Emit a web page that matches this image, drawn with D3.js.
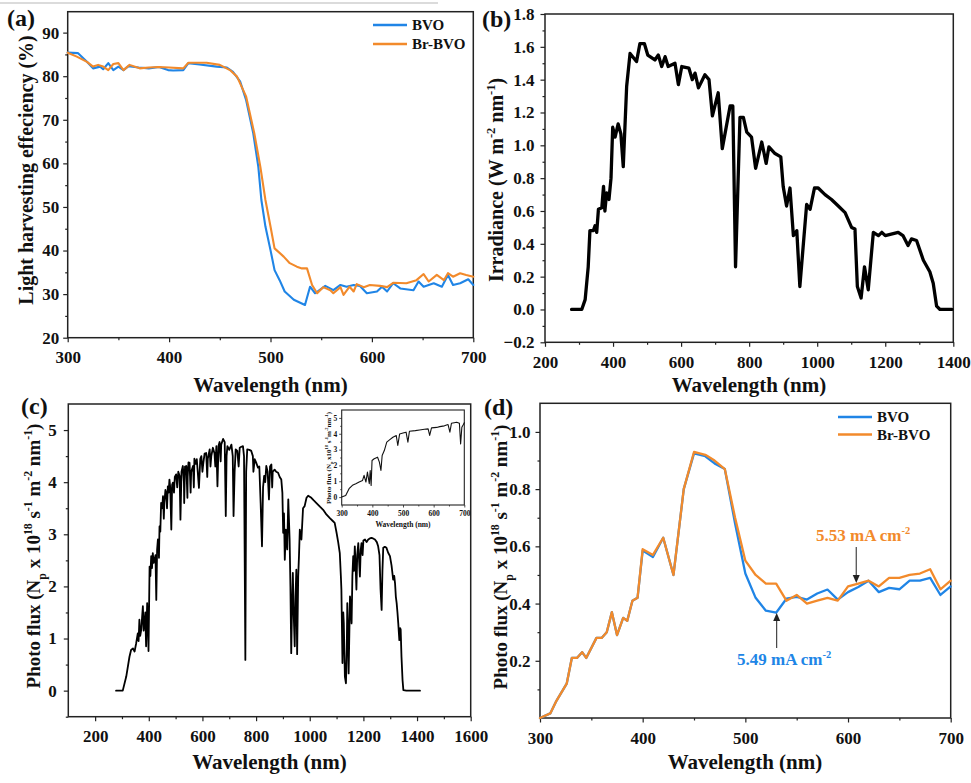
<!DOCTYPE html>
<html><head><meta charset="utf-8">
<script src="https://cdn.jsdelivr.net/npm/d3@7"></script>
<style>body{margin:0;background:#fff}svg{display:block}svg text{font-family:"Liberation Serif","Times New Roman",serif}</style>
</head><body><svg id="chart" width="971" height="783"></svg>
<script>
// ---------- Panel (a): light harvesting efficiency ----------
const aX_BVO = [300,310,319,325,332,335,340,345,350,355, 360,370,380,390,399,404,414,419,430,447,
                457,463,470,476,483,488,491,495,500,504, 509,514,523,534,539,544,554,562,569,575,
                582,588,595,605,610,615,621,628,641,646, 651,661,669,675,680,687,695,700];
const aY_BVO = [85.4,85.3,83.3,81.8,82.2,81.6,83.0,81.4,82.2,81.4, 82.3,82.0,81.8,82.1,81.4,81.3,81.4,83.0,82.7,82.2,
                82.0,81.0,78.8,74.5,66.9,59.2,51.6,45.5,40.1,35.5, 33.2,30.6,28.7,27.5,31.7,30.2,31.9,30.9,32.1,31.7,
                32.1,31.9,30.2,30.6,31.7,30.6,32.5,31.3,30.9,32.9, 31.7,32.5,31.7,34.4,32.1,32.5,33.4,32.1];
const aX_Br = [300,309,319,325,330,335,340,345,350,355, 361,371,380,390,400,414,419,437,450,460,
               467,476,484,490,495,500,504,513,519,526, 531,536,541,546,552,559,562,569,572,578,
               582,585,592,598,608,615,621,634,644,651, 656,664,671,675,680,687,693,700];
const aY_Br = [85.4,84.5,83.3,82.2,82.6,82.2,81.4,82.8,83.0,81.4, 82.6,81.8,82.0,82.1,82.0,81.8,83.1,83.1,82.6,81.4,
               79.9,75.3,66.9,59.2,51.6,45.5,40.5,38.6,37.1,36.3, 35.9,35.9,32.1,30.2,31.6,30.9,30.2,31.6,29.8,31.7,
               30.6,32.3,31.6,32.1,31.9,31.6,32.6,32.5,33.2,34.6, 32.9,34.4,33.2,34.8,34.0,34.8,34.4,34.0];
const aXTicks = [300,400,500,600,700];
const aYTicks = [20,30,40,50,60,70,80,90];

// ---------- Panel (b): solar irradiance ----------
const bX = [278,300,308,318,327,332,342,347,352,357, 367,372,376,381,388,394,399,406,415,423,
            430,440,450,469,479,492,502,523,533,543, 553,562,582,592,602,623,633,641,651,670,
            682,692,709,721,744,752,760,773,783,793, 807,819,837,850,858,876,893,900,910,920,
            930,940,949,969,979,992,1003,1023,1042,1062, 1082,1101,1111,1118,1129,1139,1150,1165,1180,1190,
            1200,1238,1252,1267,1277,1292,1312,1331,1341,1351, 1361,1396];
const bY = [0,0,0,0.06,0.26,0.48,0.48,0.51,0.47,0.61, 0.62,0.75,0.60,0.71,0.67,0.80,1.11,1.05,1.13,1.07,
            0.87,1.36,1.56,1.51,1.62,1.62,1.55,1.52,1.55,1.48, 1.54,1.48,1.50,1.37,1.48,1.47,1.40,1.44,1.35,1.43,
            1.40,1.18,1.32,0.98,1.24,1.24,0.26,1.17,1.17,1.08, 1.05,0.86,1.02,0.89,0.99,0.95,0.93,0.75,0.63,0.74,
            0.45,0.48,0.14,0.64,0.61,0.74,0.74,0.70,0.67,0.63, 0.59,0.50,0.49,0.14,0.07,0.26,0.12,0.47,0.45,0.47,
            0.45,0.47,0.45,0.39,0.43,0.42,0.30,0.23,0.16,0.02, 0,0];
const bXTicks = [200,400,600,800,1000,1200,1400];
const bYTicks = [-0.2,0,0.2,0.4,0.6,0.8,1.0,1.2,1.4,1.6,1.8];

// ---------- Panel (c): photon flux ----------
const cX = [278,303,316,328,334,341,347,353,359,362,
            365,368,372,375,378,381,384,387,390,394,
            397,399,403,406,409,412,415,418,421,425,
            428,431,434,437,438,440,443,446,450,453,
            456,458,462,465,468,471,474,477,480,484,
            487,490,494,497,502,506,510,515,518,522,
            527,531,532,535,540,544,545,548,552,556,
            558,565,568,570,575,579,587,592,596,600,
            603,608,614,618,620,627,630,633,639,645,
            648,652,656,660,664,668,670,677,683,687,
            690,693,700,708,713,716,720,724,730,735,
            739,745,751,755,760,763,767,775,782,788,
            790,795,800,807,812,817,822,826,830,834,
            838,843,848,852,857,860,862,869,875,882,
            888,894,898,901,904,907,911,916,920,925,
            928,931,934,937,940,944,947,950,953,957,
            960,963,969,975,981,988,994,1000,1006,1015,
            1025,1038,1050,1062,1075,1085,1093,1100,1106,1112,
            1116,1118,1122,1125,1127,1131,1135,1138,1140,1143,
            1145,1148,1150,1153,1156,1159,1162,1165,1168,1171,
            1174,1177,1181,1184,1187,1190,1193,1197,1200,1206,
            1212,1218,1224,1230,1236,1243,1250,1255,1260,1264,
            1268,1271,1274,1280,1286,1292,1299,1305,1311,1315,
            1318,1321,1324,1327,1330,1334,1337,1339,1342,1346,
            1349,1360,1411];
const cY = [0,0,0.27,0.65,0.78,0.81,0.75,0.91,1.10,0.95,
            1.36,1.05,1.17,1.40,1.62,1.15,1.29,1.5,0.85,1.68,
            1.2,0.76,2.38,2.2,2.58,2.35,2.64,2.45,2.51,2.6,
            1.74,2.7,2.90,2.8,2.55,3.15,3.05,3.60,3.50,3.73,
            3.3,3.6,3.85,3.79,3.5,3.92,3.8,4.05,3.9,3.09,
            3.95,3.99,3.8,4.1,4.15,3.9,4.2,4.12,3.28,4.2,
            4.31,4.0,3.6,4.3,4.31,3.7,4.1,4.38,4.37,3.8,
            4.2,4.31,3.9,4.45,4.35,4.44,3.89,4.45,4.50,4.2,
            4.35,4.55,4.56,4.1,4.45,4.63,4.3,4.5,4.66,4.55,
            4.3,4.69,3.92,4.7,4.77,4.4,4.72,4.83,4.77,3.35,
            4.5,4.69,4.62,4.72,4.5,3.35,4.2,4.63,4.6,4.3,
            4.66,4.68,4.69,4.5,0.59,4.2,4.63,4.62,4.60,4.5,
            4.2,4.44,4.38,4.28,4.3,3.60,2.77,3.9,4.12,4.0,
            4.31,4.2,3.67,4.3,4.34,3.9,4.2,4.24,4.2,4.18,
            4.1,4.05,3.8,3.03,3.4,2.51,3.09,2.71,3.67,2.90,
            2.0,0.72,1.6,2.26,1.5,0.85,1.8,2.32,0.7,2.19,
            2.6,3.09,2.9,3.5,3.54,3.7,3.74,3.72,3.70,3.65,
            3.60,3.53,3.47,3.38,3.31,3.26,3.22,3.03,2.85,2.64,
            2.2,1.94,0.53,1.5,1.29,0.27,0.14,0.8,1.68,1.1,
            0.33,1.2,1.81,1.6,1.29,2.2,2.58,2.3,2.77,2.4,
            1.94,2.6,2.83,2.5,2.19,2.7,2.83,2.6,2.88,2.90,
            2.85,2.90,2.92,2.93,2.92,2.90,2.85,2.77,2.6,1.94,
            1.55,2.3,2.74,2.76,2.74,2.65,2.58,2.4,2.13,2.2,
            2.06,1.8,1.68,1.5,1.29,0.97,1.2,1.17,0.65,0.2,
            0.01,0,0];
const cXTicks = [200,400,600,800,1000,1200,1400,1600];
const cYTicks = [0,1,2,3,4,5];
// inset of (c)
const insX = [300,313,324,335,346,357,368,373,379,384, 390,393,396,399,406,417,423,428,432,439,
              447,456,467,478,483,489,500,510,516,521, 540,554,570,582,587,593,610,620,635,647,
              653,658,667,675,684,688,692,697,700];
const insY = [0,0.1,0.53,0.74,0.84,0.95,1.05,1.37,0.95,1.58, 0.84,1.68,0.74,2.31,2.42,2.52,2.21,1.68,2.63,2.94,
              3.47,3.61,3.78,3.89,3.26,3.99,4.05,4.10,3.47,4.16, 4.2,4.24,4.28,4.31,3.89,4.37,4.4,4.45,4.5,4.58,
              4.10,4.66,4.7,4.73,4.66,3.36,4.41,4.58,4.7];
const insXTicks = [300,400,500,600,700];
const insYTicks = [0,1,2,3,4,5];

// ---------- Panel (d): absorbed photon flux ----------
const dX = [300,310,316,326,331,336,341,345,355,360, 365,370,375,381,385,390,395,400,410,420,
            430,440,450,461,470,480,490,500,510,520, 530,540,550,560,570,580,590,600,610,620,
            630,640,650,660,670,680,690,700];
const dY_BVO = [0,0.016,0.06,0.12,0.21,0.21,0.23,0.21,0.28,0.28, 0.30,0.37,0.29,0.35,0.34,0.41,0.42,0.585,0.563,0.63,
                0.50,0.80,0.925,0.915,0.89,0.87,0.68,0.505,0.42,0.375, 0.368,0.417,0.423,0.414,0.435,0.449,0.414,0.44,0.458,0.48,
                0.44,0.455,0.45,0.48,0.48,0.49,0.43,0.46];
const dY_Br = [0,0.016,0.06,0.12,0.21,0.21,0.23,0.21,0.28,0.28, 0.30,0.37,0.29,0.35,0.34,0.41,0.42,0.59,0.57,0.63,
               0.50,0.80,0.93,0.92,0.90,0.87,0.70,0.55,0.50,0.47, 0.47,0.41,0.43,0.40,0.41,0.42,0.41,0.46,0.47,0.48,
               0.46,0.49,0.49,0.50,0.505,0.52,0.45,0.48];
const dXTicks = [300,400,500,600,700];
const dYTicks = [0.2,0.4,0.6,0.8,1.0];

const seriesNames = ['BVO','Br-BVO'];
const BLUE = '#2085e6', ORANGE = '#f28a2b';
const FONT = '"Liberation Serif","Times New Roman",serif';

const svg = d3.select('#chart');
svg.append('line').attr('x1',0).attr('x2',438).attr('y1',3).attr('y2',3)
   .attr('stroke','#cfcfcf').attr('stroke-width',1.5);

function rich(t, parts, fs){
  let cur = 0;
  parts.forEach(p=>{
    const off = p.s===1 ? -0.42*fs : (p.s===-1 ? 0.3*fs : 0);
    const ts = t.append('tspan').text(p.t).attr('dy', (off-cur).toFixed(2));
    if (p.s) ts.attr('font-size', (fs*0.62).toFixed(1));
    cur = off;
  });
}
function txt(g, x, y, s, fs, anchor){
  return g.append('text').attr('x',x).attr('y',y).attr('font-family',FONT).attr('font-weight','bold')
    .attr('font-size',fs).attr('fill','#111').attr('text-anchor',anchor||'start').text(s);
}

function panel(o){
  const x = d3.scaleLinear().domain(o.xd).range([o.l,o.r]);
  const y = d3.scaleLinear().domain(o.yd).range([o.b,o.t]);
  const g = svg.append('g');
  const ms = o.minor||2.5, Ms = o.major||4.5, sw = o.tsw||1.2;
  const style = s => {
    s.select('.domain').remove();
    s.selectAll('line').attr('stroke','#222').attr('stroke-width',sw);
    s.selectAll('text').attr('font-family',FONT).attr('font-weight','bold')
      .attr('font-size',o.fs).attr('fill','#111');
    s.attr('font-family',null).attr('font-size',null);
  };
  g.append('g').attr('transform',`translate(0,${o.b})`)
    .call(d3.axisBottom(x).tickValues(o.xMinor).tickSize(ms).tickFormat('')).call(style);
  g.append('g').attr('transform',`translate(${o.l},0)`)
    .call(d3.axisLeft(y).tickValues(o.yMinor).tickSize(ms).tickFormat('')).call(style);
  g.append('g').attr('transform',`translate(0,${o.b})`)
    .call(d3.axisBottom(x).tickValues(o.xTicks).tickSize(Ms).tickPadding(o.xpad).tickFormat(o.xfmt||d3.format('d'))).call(style);
  g.append('g').attr('transform',`translate(${o.l},0)`)
    .call(d3.axisLeft(y).tickValues(o.yTicks).tickSize(Ms).tickPadding(o.ypad).tickFormat(o.yfmt||d3.format('d'))).call(style);
  g.append('rect').attr('x',o.l).attr('y',o.t).attr('width',o.r-o.l).attr('height',o.b-o.t)
    .attr('fill','none').attr('stroke','#222').attr('stroke-width',o.fw||1.5);
  return {x,y,g};
}
function drawLine(p, xs, ys, color, w){
  const line = d3.line().x(d=>p.x(d[0])).y(d=>p.y(d[1]));
  p.g.append('path').datum(d3.zip(xs,ys)).attr('d',line).attr('fill','none')
    .attr('stroke',color).attr('stroke-width',w).attr('stroke-linejoin','round').attr('stroke-linecap','round');
}
function legend(g, x0, y0, dy){
  [BLUE,ORANGE].forEach((c,i)=>{
    g.append('line').attr('x1',x0).attr('x2',x0+34).attr('y1',y0+i*dy).attr('y2',y0+i*dy)
      .attr('stroke',c).attr('stroke-width',2.5);
    txt(g, x0+39, y0+i*dy+5, seriesNames[i], 15);
  });
}
function arrow(g, x, y1, y2){
  const dir = y2>y1 ? 1 : -1;
  g.append('line').attr('x1',x).attr('x2',x).attr('y1',y1).attr('y2',y2-dir*7)
    .attr('stroke','#333').attr('stroke-width',1.1);
  g.append('path').attr('d',`M${x},${y2} L${x-3.5},${y2-dir*8} L${x+3.5},${y2-dir*8} Z`).attr('fill','#222');
}

// ---- (a)
const pa = panel({l:67.7,r:473.3,t:11.7,b:337.7,xd:[300,700],yd:[20,94.8],
  xTicks:aXTicks,yTicks:aYTicks,xMinor:[350,450,550,650],yMinor:[25,35,45,55,65,75,85],
  fs:17,xpad:9,ypad:4});
drawLine(pa, aX_BVO, aY_BVO, BLUE, 2.1);
drawLine(pa, aX_Br, aY_Br, ORANGE, 2.1);
legend(pa.g, 373, 25, 19);
txt(pa.g, 270.5, 392, 'Wavelength (nm)', 21, 'middle');
txt(pa.g, 33, 170, 'Light harvesting effeciency (%)', 20, 'middle').attr('transform','rotate(-90,33,170)');
txt(pa.g, 7, 26, '(a)', 24);

// ---- (b)
const pb = panel({l:545,r:953.3,t:14,b:342.3,xd:[200,1400],yd:[-0.2,1.8],
  xTicks:bXTicks,yTicks:bYTicks,xMinor:[300,500,700,900,1100,1300],
  yMinor:[-0.1,0.1,0.3,0.5,0.7,0.9,1.1,1.3,1.5,1.7],
  fs:17,xpad:9,ypad:6,yfmt:d3.format('.1f')});
drawLine(pb, bX, bY, '#000', 3.3);
txt(pb.g, 749, 392, 'Wavelength (nm)', 21, 'middle');
{
  const t = txt(pb.g, 503, 180, '', 20, 'middle').attr('transform','rotate(-90,503,180)');
  rich(t, [{t:'Irradiance (W m'},{t:'-2',s:1},{t:' nm'},{t:'-1',s:1},{t:')'}], 20);
}
txt(pb.g, 482, 27, '(b)', 24);

// ---- (c)
const pc = panel({l:68.3,r:470.7,t:404,b:716.7,xd:[100,1600],yd:[-0.5,5.5],
  xTicks:cXTicks,yTicks:cYTicks,xMinor:[300,500,700,900,1100,1300,1500],
  yMinor:[-0.5,0.5,1.5,2.5,3.5,4.5],fs:17,xpad:9,ypad:7});
drawLine(pc, cX, cY, '#000', 1.8);
txt(pc.g, 269.5, 769, 'Wavelength (nm)', 21, 'middle');
{
  const t = txt(pc.g, 40, 556, '', 19, 'middle').attr('transform','rotate(-90,40,556)');
  rich(t, [{t:'Photo flux (N'},{t:'p',s:-1},{t:' x 10'},{t:'18',s:1},{t:'  s'},{t:'-1',s:1},{t:' m'},{t:'-2',s:1},{t:' nm'},{t:'-1',s:1},{t:')'}], 19);
}
txt(pc.g, 21, 414, '(c)', 24);
// inset
svg.append('rect').attr('x',341.7).attr('y',410).attr('width',122.6).attr('height',95).attr('fill','#fff');
const pi = panel({l:341.7,r:464.3,t:410,b:505,xd:[300,700],yd:[-0.5,5.5],
  xTicks:insXTicks,yTicks:insYTicks,xMinor:[350,450,550,650],yMinor:[0.5,1.5,2.5,3.5,4.5],
  fs:7.5,xpad:3,ypad:2,major:2.5,minor:1.5,tsw:0.8,fw:1.1});
drawLine(pi, insX, insY, '#111', 1.1);
txt(pi.g, 403, 527, 'Wavelength (nm)', 7.5, 'middle');
{
  const t = txt(pi.g, 331, 458, '', 7, 'middle').attr('transform','rotate(-90,331,458)');
  rich(t, [{t:'Photo flux (N'},{t:'p',s:-1},{t:' x10'},{t:'18',s:1},{t:' s'},{t:'-1',s:1},{t:'m'},{t:'-2',s:1},{t:'nm'},{t:'-1',s:1},{t:')'}], 7);
}

// ---- (d)
const pd = panel({l:540,r:950.7,t:403.3,b:718,xd:[300,700],yd:[0,1.1],
  xTicks:dXTicks,yTicks:dYTicks,xMinor:[350,450,550,650],yMinor:[0.1,0.3,0.5,0.7,0.9],
  fs:17,xpad:9,ypad:5,yfmt:d3.format('.1f')});
drawLine(pd, dX, dY_BVO, BLUE, 2.3);
drawLine(pd, dX, dY_Br, ORANGE, 2.3);
legend(pd.g, 838, 417, 17.5);
txt(pd.g, 745, 769, 'Wavelength (nm)', 21, 'middle');
{
  const t = txt(pd.g, 507, 557, '', 19, 'middle').attr('transform','rotate(-90,507,557)');
  rich(t, [{t:'Photo flux (N'},{t:'p',s:-1},{t:' x 10'},{t:'18',s:1},{t:'  s'},{t:'-1',s:1},{t:' m'},{t:'-2',s:1},{t:' nm'},{t:'-1',s:1},{t:')'}], 19);
}
txt(pd.g, 484, 415, '(d)', 24);
{
  const t1 = txt(pd.g, 816, 541, '', 17).attr('fill',ORANGE);
  rich(t1, [{t:'5.53 mA cm'},{t:'-2',s:1}], 17);
  const t2 = txt(pd.g, 737, 665, '', 17).attr('fill',BLUE);
  rich(t2, [{t:'5.49 mA cm'},{t:'-2',s:1}], 17);
  arrow(pd.g, pd.x(608), 547, 583);
  arrow(pd.g, pd.x(530.5), 648, 613);
}
</script></body></html>
